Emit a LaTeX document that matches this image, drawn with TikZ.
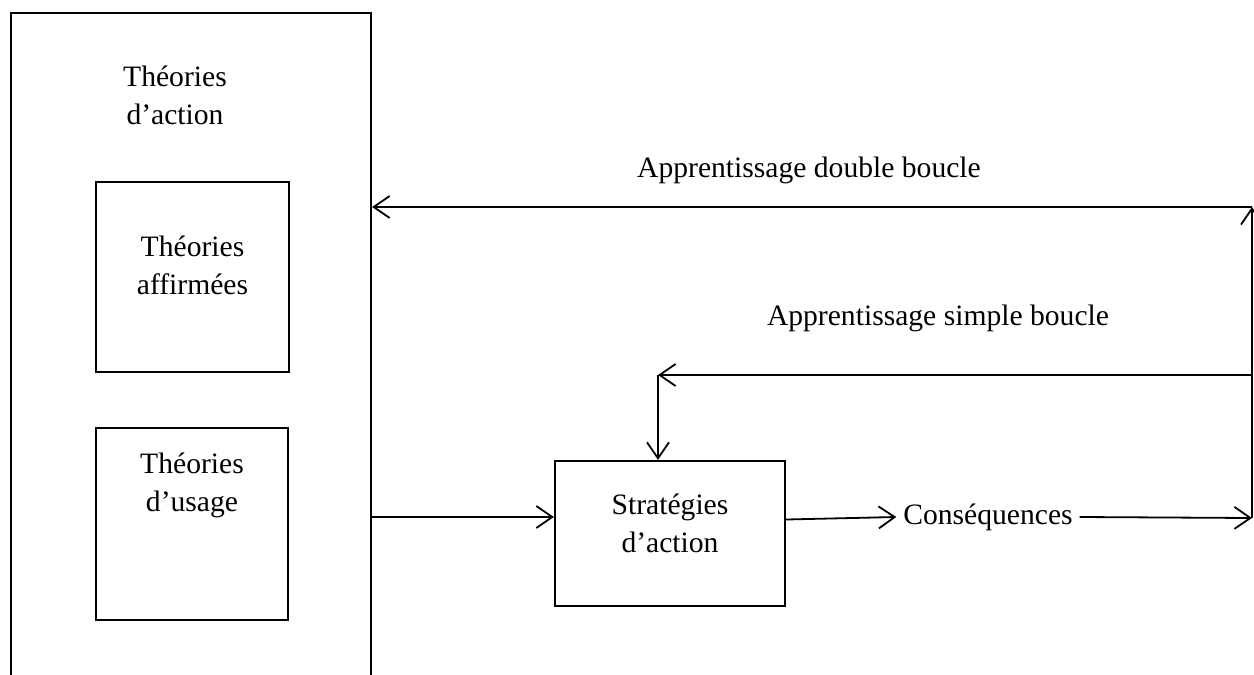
\documentclass[tikz,border=0pt]{standalone}
\usepackage{fontspec}
\setmainfont{Liberation Serif}
\usetikzlibrary{arrows.meta,positioning}

\begin{document}
\begin{tikzpicture}[x=0.5pt,y=-0.5pt,
  box/.style={draw,line width=1.1pt,inner sep=0pt},
  txt/.style={align=center,font=\fontsize{14.8}{19}\selectfont},
  fleche/.style={-{Straight Barb[length=8pt,width=11pt,line width=0.9pt]},line width=0.9pt}]
\useasboundingbox (0,0) rectangle (1254,675);
% boites
\node[box,minimum width=180pt,minimum height=343.5pt] (action) at (191,356.5) {};
\node[box,minimum width=96.5pt,minimum height=95pt] (affirm) at (192.5,277) {};
\node[box,minimum width=96pt,minimum height=96pt] (usage) at (192,524) {};
\node[box,minimum width=115pt,minimum height=72.5pt] (strat) at (670,533.5) {};
% textes
\node[txt] (taction) at (175,95) {Théories\\d’action};
\node[txt] (taffirm) at (192.5,265) {Théories\\affirmées};
\node[txt] (tusage) at (192,485) {Théories\\d’usage};
\node[txt] (tstrat) at (670,523) {Stratégies\\d’action};
\node[txt] (cons) at (988,517) {Conséquences};
\node[txt] (double) at (809,170) {Apprentissage double boucle};
\node[txt] (simple) at (938,318) {Apprentissage simple boucle};
% boucles
\coordinate (rb) at (1252,518);
\coordinate (rm) at (1252,375);
\coordinate (rt) at (1252,207);
\coordinate (s) at (658,375);
\draw[fleche] ([yshift=3.5pt]usage.east -| action.east) -- ([yshift=3.5pt]usage.east -| strat.west);
\draw[fleche] ([yshift=7pt]strat.east) -- (cons.west);
\draw[fleche] (cons.east) -- (rb);
\draw[fleche] (rb) -- (rt);
\draw[fleche] (rt) -- (rt -| action.east);
\draw[fleche] (rm) -- (s);
\draw[fleche] (s) -- (s |- strat.north);
\end{tikzpicture}
\end{document}
